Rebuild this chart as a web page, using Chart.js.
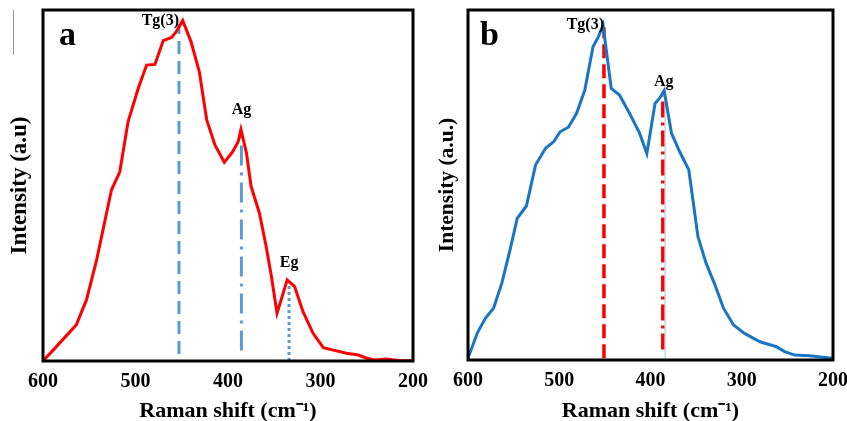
<!DOCTYPE html>
<html>
<head>
<meta charset="utf-8">
<script src="https://cdn.jsdelivr.net/npm/chart.js@4.4.1/dist/chart.umd.min.js"></script>
<style>
  html,body{margin:0;padding:0;background:#fff;width:847px;height:421px;overflow:hidden}
  canvas{position:absolute;top:0}
  #chart-a{left:0}
  #chart-b{left:423px}
</style>
</head>
<body>
<canvas id="chart-a" width="440" height="421"></canvas>
<canvas id="chart-b" width="424" height="421"></canvas>
<script>
/* ── Data ── */
const X_TICKS   = [600, 500, 400, 300, 200];

// (a) red spectrum
const shiftA  = [600,589,564,553,542,526,517,508,497,488,479,470,461,456,449,440,431,423,414,404,395,389,386,380,375,366,359,353,347,342,336,328,319,308,297,286,272,259,250,241,229,214,200];
const intensA = [0,3.1,10.3,17.4,28.8,48.7,53.9,68.2,77.7,84.3,84.5,91.3,92.2,93.8,97.0,91.0,82.4,68.7,61.5,56.6,59.6,62.5,66.0,59.2,49.7,42.1,33.0,24.0,13.6,17.9,23.1,21.2,14.1,7.9,3.8,3.1,2.2,1.7,0.8,0.3,0.6,0.1,0.1];
const peakNamesA  = ['Tg(3)', 'Ag', 'Eg'];
const peakShiftA  = [453, 385.5, 334];
const peakTopA    = [96, 65, 22.5];
const peakBottomA = [2, 3, 0];

// (b) blue spectrum
const shiftB  = [600,590,581,572,563,554,546,536,526,515,506,499,490,481,472,463,457,452,443,434,423,412,404,395,390,385,377,368,358,348,339,330,320,309,297,280,262,253,242,226,211,200];
const intensB = [0.5,7.6,11.9,14.8,21.9,31.4,40.5,44.0,55.7,60.5,62.4,65.2,66.5,70.5,77.1,89.5,92.4,95.7,77.6,75.7,70.5,64.8,59.0,73.3,74.8,77.0,64.8,59.5,54.3,35.2,27.6,21.9,14.8,10.0,7.6,5.2,3.8,2.4,1.4,1.2,0.8,0.5];
const peakNamesB  = ['Tg(3)', 'Ag'];
const peakShiftB  = [451, 386.5];
const peakTopB    = [95, 75.5];
const peakBottomB = [0.5, 3];

const pts = (xs, ys) => xs.map((x, i) => ({ x, y: ys[i] }));
const vline = (x, y0, y1) => [{ x, y: y0 }, { x, y: y1 }];

/* ── Frame, panel letter and peak names ── */
const decor = {
  id: 'decor',
  afterDraw(chart, args, o) {
    const { ctx, chartArea: a, scales: { x, y } } = chart;
    ctx.save();
    ctx.fillStyle = '#000';
    ctx.font = 'bold 16px "Liberation Serif", serif';
    ctx.textBaseline = 'middle';
    o.labels.forEach(l => {
      ctx.textAlign = l.align;
      ctx.fillText(l.text, x.getPixelForValue(l.x) + (l.dx || 0), y.getPixelForValue(l.y));
    });
    ctx.font = 'bold 34px "Liberation Serif", serif';
    ctx.textAlign = 'left';
    ctx.textBaseline = 'alphabetic';
    ctx.fillText(o.letter, a.left + o.letterDx, a.top + 35);
    ctx.strokeStyle = '#000';
    ctx.lineWidth = 3;
    ctx.strokeRect(a.left, a.top, a.right - a.left, a.bottom - a.top);
    if (o.stray) {
      ctx.strokeStyle = '#999'; ctx.lineWidth = 1;
      ctx.beginPath(); ctx.moveTo(13.5, 10); ctx.lineTo(13.5, 55); ctx.stroke();
    }
    ctx.restore();
  }
};

function makeChart(id, cfg) {
  const font = s => ({ family: '"Liberation Serif", "Times New Roman", serif', size: s, weight: 'bold' });
  return new Chart(document.getElementById(id), {
    type: 'line',
    data: { datasets: cfg.datasets },
    options: {
      responsive: false, animation: false,
      layout: { padding: { top: 10, right: cfg.padRight, left: 0, bottom: 0 } },
      elements: { point: { radius: 0 }, line: { tension: 0 } },
      plugins: { legend: { display: false }, tooltip: { enabled: false }, decor: cfg.decor },
      scales: {
        x: {
          type: 'linear', min: 200, max: 600, reverse: true,
          afterFit: s => { s.height = cfg.xH; s.paddingLeft = 0; s.paddingRight = 0; },
          afterBuildTicks: s => { s.ticks = X_TICKS.map(v => ({ value: v })); },
          grid: { display: false, drawTicks: false },
          border: { display: false },
          ticks: { color: '#000', font: font(20), padding: 9, maxRotation: 0 },
          title: { display: true, text: 'Raman shift (cm⁻¹)', color: '#000', font: font(22), padding: { top: 0, bottom: -4 } }
        },
        y: {
          min: 0, max: 100,
          afterFit: s => { s.width = cfg.yW; s.paddingTop = 0; s.paddingBottom = 0; },
          grid: { display: false, drawTicks: false },
          border: { display: false },
          ticks: { display: false },
          title: { display: true, text: cfg.yTitle, color: '#000', font: font(cfg.yFont), padding: { top: cfg.yTitlePad, bottom: 0 } }
        }
      }
    },
    plugins: [decor]
  });
}

/* ── (a) ── */
makeChart('chart-a', {
  padRight: 27, xH: 60, yW: 43, yFont: 23, yTitlePad: 6, yTitle: 'Intensity (a.u)',
  datasets: [
    { data: pts(shiftA, intensA), borderColor: '#ff0000', borderWidth: 3 },
    { data: vline(peakShiftA[0], peakBottomA[0], peakTopA[0]), borderColor: '#5b9bd5', borderWidth: 3, borderDash: [13, 7] },
    { data: vline(peakShiftA[1], peakBottomA[1], peakTopA[1]), borderColor: '#5b9bd5', borderWidth: 3, borderDash: [20, 7, 3, 7] },
    { data: vline(peakShiftA[2], peakBottomA[2], peakTopA[2]), borderColor: '#5b9bd5', borderWidth: 3, borderDash: [3, 3] }
  ],
  decor: {
    letter: 'a', letterDx: 16, stray: true,
    labels: [
      { text: peakNamesA[0], x: peakShiftA[0], y: 97, align: 'right', dx: 0 },
      { text: peakNamesA[1], x: peakShiftA[1], y: 71.5, align: 'center' },
      { text: peakNamesA[2], x: peakShiftA[2], y: 27.9, align: 'center' }
    ]
  }
});

/* ── (b) ── */
makeChart('chart-b', {
  padRight: 14, xH: 61, yW: 45, yFont: 21.5, yTitlePad: 12, yTitle: 'Intensity (a.u.)',
  datasets: [
    { data: pts(shiftB, intensB), borderColor: '#1a75c4', borderWidth: 3 },
    { data: vline(384, 0, 75.5), borderColor: '#9cc3e6', borderWidth: 1 },
    { data: vline(peakShiftB[0], peakBottomB[0], peakTopB[0]), borderColor: '#ff0000', borderWidth: 3.5, borderDash: [14, 6] },
    { data: vline(peakShiftB[1], peakBottomB[1], peakTopB[1]), borderColor: '#ff0000', borderWidth: 3.5, borderDash: [16, 5, 3, 5] }
  ],
  decor: {
    letter: 'b', letterDx: 12,
    labels: [
      { text: peakNamesB[0], x: peakShiftB[0], y: 95.7, align: 'right' },
      { text: peakNamesB[1], x: peakShiftB[1], y: 79.4, align: 'center', dx: 1 }
    ]
  }
});
</script>
</body>
</html>
